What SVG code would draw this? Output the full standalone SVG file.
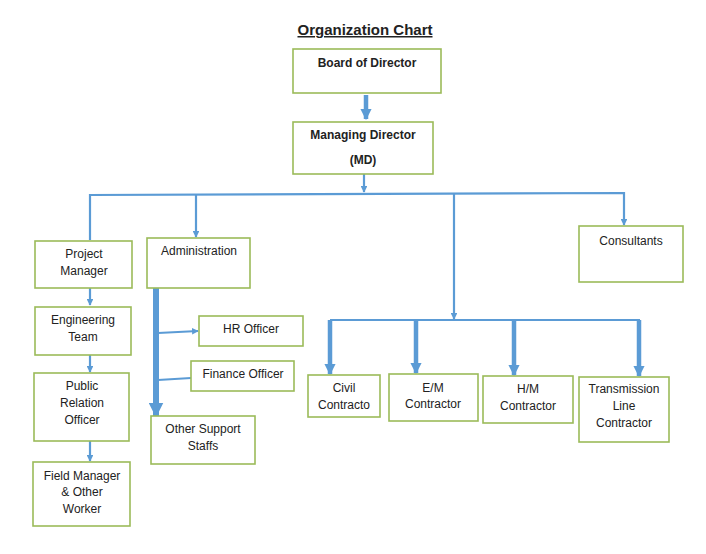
<svg xmlns="http://www.w3.org/2000/svg" width="706" height="554" viewBox="0 0 706 554">
<defs>
<style>
.box{fill:#fff;stroke:#9bbb59;stroke-width:1.6}
.t{font-family:"Liberation Sans",Arial,sans-serif;font-size:12px;fill:#222;text-anchor:middle}
.b{font-weight:bold}
.ln{fill:none;stroke:#5b9bd5;stroke-width:2.2}
.thk{fill:none;stroke:#5b9bd5;stroke-width:4.5}
</style>
<marker id="ah" viewBox="0 0 10 10" refX="9" refY="5" markerWidth="3" markerHeight="3" orient="auto" markerUnits="strokeWidth"><path d="M0,0L10,5L0,10z" fill="#5b9bd5"/></marker>
<marker id="ahs" viewBox="0 0 10 10" refX="9" refY="5" markerWidth="2.5" markerHeight="2.5" orient="auto" markerUnits="strokeWidth"><path d="M0,0L10,5L0,10z" fill="#5b9bd5"/></marker>
</defs>
<rect width="706" height="554" fill="#fff"/>
<text x="365" y="35" class="t b" style="font-size:15px;text-decoration:underline">Organization Chart</text>

<g id="connectors">
<line x1="366" y1="95" x2="366" y2="119" class="thk" marker-end="url(#ahs)"/>
<line x1="364" y1="174" x2="364" y2="192" class="ln" marker-end="url(#ah)"/>
<polyline points="90,240 90,195 624,193 624,225" class="ln" marker-end="url(#ah)"/>
<line x1="196" y1="195" x2="196" y2="237" class="ln" marker-end="url(#ah)"/>
<line x1="90" y1="288" x2="90" y2="305" class="ln" marker-end="url(#ah)"/>
<line x1="90" y1="355" x2="90" y2="372" class="ln" marker-end="url(#ah)"/>
<line x1="90" y1="441" x2="90" y2="461" class="ln" marker-end="url(#ah)"/>
<line x1="156" y1="288" x2="156" y2="416" style="fill:none;stroke:#5b9bd5;stroke-width:6" marker-end="url(#ahs)"/>
<line x1="158" y1="333" x2="198" y2="331" class="ln" marker-end="url(#ah)"/>
<line x1="158" y1="380" x2="191" y2="378" class="ln"/>
<line x1="454" y1="194" x2="454" y2="319" class="ln" marker-end="url(#ah)"/>
<line x1="330" y1="320" x2="640" y2="320" class="ln"/>
<line x1="330" y1="320" x2="330" y2="374" class="thk" marker-end="url(#ahs)"/>
<line x1="416" y1="320" x2="416" y2="373" class="thk" marker-end="url(#ahs)"/>
<line x1="514" y1="320" x2="514" y2="375" class="thk" marker-end="url(#ahs)"/>
<line x1="639" y1="320" x2="639" y2="376" class="thk" marker-end="url(#ahs)"/>
</g>

<g id="board"><rect x="293" y="49" width="148" height="44" class="box"/><text x="367" y="67" class="t b">Board of Director</text></g>
<g id="md"><rect x="293" y="122" width="140" height="52" class="box"/><text x="363" y="139" class="t b">Managing Director</text><text x="363" y="164" class="t b">(MD)</text></g>
<g id="pm"><rect x="35" y="241" width="97" height="47" class="box"/><text x="84" y="258" class="t">Project</text><text x="84" y="275" class="t">Manager</text></g>
<g id="admin"><rect x="147" y="238" width="103" height="50" class="box"/><text x="199" y="255" class="t">Administration</text></g>
<g id="eng"><rect x="35" y="307" width="96" height="48" class="box"/><text x="83" y="324" class="t">Engineering</text><text x="83" y="341" class="t">Team</text></g>
<g id="hr"><rect x="199" y="316" width="104" height="30" class="box"/><text x="251" y="333" class="t">HR Officer</text></g>
<g id="pro"><rect x="34" y="373" width="95" height="68" class="box"/><text x="82" y="390" class="t">Public</text><text x="82" y="407" class="t">Relation</text><text x="82" y="424" class="t">Officer</text></g>
<g id="fin"><rect x="191" y="361" width="103" height="30" class="box"/><text x="243" y="378" class="t">Finance Officer</text></g>
<g id="oss"><rect x="151" y="416" width="104" height="48" class="box"/><text x="203" y="433" class="t">Other Support</text><text x="203" y="450" class="t">Staffs</text></g>
<g id="field"><rect x="33" y="462" width="97" height="64" class="box"/><text x="82" y="480" class="t">Field Manager</text><text x="82" y="496" class="t">&amp; Other</text><text x="82" y="513" class="t">Worker</text></g>
<g id="civil"><rect x="308" y="375" width="72" height="42" class="box"/><text x="344" y="392" class="t">Civil</text><text x="344" y="409" class="t">Contracto</text></g>
<g id="em"><rect x="389" y="374" width="89" height="47" class="box"/><text x="433" y="392" class="t">E/M</text><text x="433" y="408" class="t">Contractor</text></g>
<g id="hm"><rect x="483" y="376" width="90" height="47" class="box"/><text x="528" y="393" class="t">H/M</text><text x="528" y="410" class="t">Contractor</text></g>
<g id="tl"><rect x="579" y="377" width="90" height="65" class="box"/><text x="624" y="393" class="t">Transmission</text><text x="624" y="410" class="t">Line</text><text x="624" y="427" class="t">Contractor</text></g>
<g id="cons"><rect x="579" y="226" width="104" height="56" class="box"/><text x="631" y="245" class="t">Consultants</text></g>
</svg>
